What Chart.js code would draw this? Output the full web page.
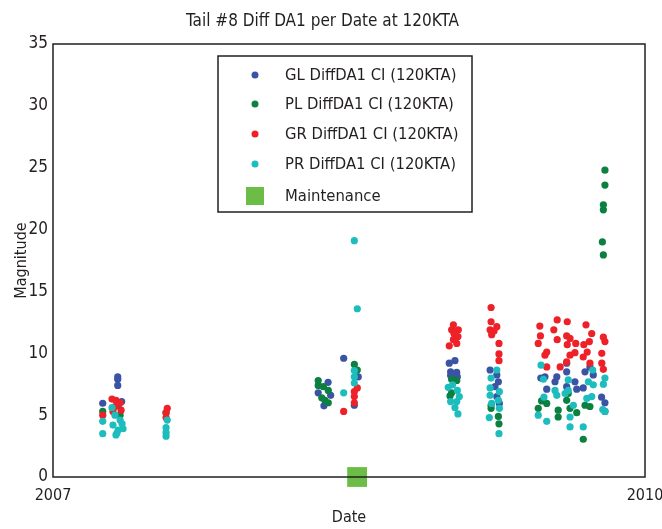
<!DOCTYPE html>
<html>
<head>
<meta charset="utf-8">
<script src="https://cdn.jsdelivr.net/npm/chart.js@4/dist/chart.umd.min.js"></script>
<style>
  html, body { margin: 0; padding: 0; background: #fff; }
  #wrap { width: 662px; height: 529px; }
</style>
</head>
<body>
<div id="wrap"><canvas id="tailChart"></canvas></div>
<script>
const FONT = "'Liberation Sans Narrow', 'DejaVu Sans Condensed', sans-serif";

// x = decimal year, y = magnitude
const glPoints = [
    [2007.328, 8.1], [2007.328, 7.9], [2007.328, 7.4], [2007.252, 5.96], [2007.348, 6.1],
    [2008.473, 9.6], [2008.547, 8.1], [2008.527, 5.8], [2008.344, 6.8], [2008.394, 7.65], [2008.407, 6.6], [2008.373, 5.75],
    [2009.008, 9.2], [2009.037, 9.4], [2009.015, 8.5], [2009.046, 8.45], [2009.015, 8.2], [2009.049, 8.1],
    [2009.215, 8.65], [2009.249, 8.25], [2009.257, 7.7], [2009.240, 7.3], [2009.249, 6.5], [2009.262, 5.95],
    [2009.472, 8.0], [2009.493, 8.1], [2009.603, 9.2], [2009.603, 8.5], [2009.696, 8.5], [2009.721, 8.9],
    [2009.553, 8.1], [2009.544, 7.7], [2009.645, 7.7], [2009.687, 7.2], [2009.502, 7.1], [2009.654, 7.1],
    [2009.780, 6.45], [2009.797, 6.0], [2009.603, 7.3], [2009.738, 8.25], [2009.797, 5.3]
];
const plPoints = [
    [2007.252, 5.3], [2007.330, 5.8], [2007.573, 5.2], [2007.340, 5.0],
    [2008.527, 9.1], [2008.542, 8.65], [2008.344, 7.8], [2008.344, 7.4], [2008.370, 7.3], [2008.395, 7.0],
    [2008.378, 6.2], [2008.395, 6.0], [2008.362, 6.4],
    [2009.020, 7.9], [2009.046, 7.8], [2009.020, 6.8], [2009.012, 6.55],
    [2009.220, 5.8], [2009.220, 5.55], [2009.257, 4.9], [2009.260, 4.3],
    [2009.797, 24.8], [2009.797, 23.6], [2009.789, 22.0], [2009.789, 21.6], [2009.784, 19.0], [2009.789, 17.95],
    [2009.476, 6.15], [2009.502, 5.95], [2009.459, 5.55], [2009.560, 5.4], [2009.560, 4.85], [2009.620, 5.55],
    [2009.654, 5.2], [2009.603, 6.2], [2009.696, 5.8], [2009.721, 5.7], [2009.687, 3.05], [2009.611, 6.75]
];
const grPoints = [
    [2007.252, 5.0], [2007.299, 6.3], [2007.319, 6.2], [2007.340, 6.0], [2007.314, 5.7], [2007.345, 5.4], [2007.304, 5.3],
    [2007.579, 5.55], [2007.573, 5.2], [2007.573, 4.8],
    [2008.542, 7.2], [2008.527, 6.9], [2008.527, 6.5], [2008.527, 6.0], [2008.473, 5.3],
    [2009.029, 12.3], [2009.020, 11.9], [2009.054, 11.9], [2009.032, 11.6], [2009.052, 11.35], [2009.046, 10.8],
    [2009.008, 10.6], [2009.029, 11.1],
    [2009.220, 13.7], [2009.220, 12.55], [2009.249, 12.15], [2009.215, 11.9], [2009.235, 11.8], [2009.223, 11.5],
    [2009.260, 10.8], [2009.260, 9.95], [2009.260, 9.4],
    [2009.467, 12.2], [2009.555, 12.7], [2009.606, 12.55], [2009.538, 11.9], [2009.701, 12.3], [2009.470, 11.4],
    [2009.603, 11.4], [2009.620, 11.2], [2009.730, 11.6], [2009.718, 10.95], [2009.789, 11.3], [2009.797, 10.95],
    [2009.459, 10.8], [2009.555, 11.1], [2009.606, 10.7], [2009.649, 10.8], [2009.690, 10.7], [2009.707, 10.1],
    [2009.645, 10.05], [2009.502, 10.1], [2009.493, 9.85], [2009.620, 9.85], [2009.687, 9.7], [2009.781, 10.0],
    [2009.570, 8.9], [2009.781, 9.2], [2009.789, 8.7], [2009.502, 8.9], [2009.603, 9.3], [2009.721, 9.2]
];
const prPoints = [
    [2007.252, 4.5], [2007.252, 3.5], [2007.299, 5.6], [2007.314, 5.0], [2007.340, 4.6], [2007.304, 4.2],
    [2007.330, 3.8], [2007.355, 3.9], [2007.319, 3.4], [2007.350, 4.3], [2007.324, 3.55],
    [2007.579, 4.6], [2007.573, 4.0], [2007.573, 3.6], [2007.573, 3.3],
    [2008.527, 19.1], [2008.542, 13.6], [2008.527, 8.6], [2008.527, 8.1], [2008.527, 7.6], [2008.473, 6.8],
    [2009.003, 7.25], [2009.025, 7.45], [2009.049, 7.0], [2009.059, 6.5], [2009.015, 6.1], [2009.046, 6.1],
    [2009.037, 5.6], [2009.052, 5.1],
    [2009.249, 8.65], [2009.220, 8.0], [2009.215, 7.2], [2009.262, 6.9], [2009.215, 6.6], [2009.257, 6.2],
    [2009.223, 5.95], [2009.262, 5.55], [2009.211, 4.8], [2009.260, 3.5],
    [2009.473, 9.05], [2009.485, 7.9], [2009.544, 7.0], [2009.611, 7.85], [2009.611, 7.0], [2009.713, 7.7],
    [2009.735, 8.65], [2009.738, 7.45], [2009.797, 8.0], [2009.789, 7.5], [2009.705, 6.35], [2009.730, 6.5],
    [2009.553, 6.6], [2009.637, 5.8], [2009.459, 5.0], [2009.502, 4.5], [2009.620, 4.85], [2009.620, 4.05],
    [2009.687, 4.05], [2009.786, 5.45], [2009.797, 5.3], [2009.488, 6.45], [2009.595, 6.75]
];
const maintenancePoints = [[2008.541, 0]];

const seriesLabels = ['GL DiffDA1 CI (120KTA)', 'PL DiffDA1 CI (120KTA)', 'GR DiffDA1 CI (120KTA)', 'PR DiffDA1 CI (120KTA)', 'Maintenance'];
const seriesColors = ['#3a53a4', '#0b8040', '#ee2128', '#1dbdbd', '#6cbd45'];
const xTicks = [2007, 2010];
const yTicks = [0, 5, 10, 15, 20, 25, 30, 35];

const toXY = (pts) => pts.map(p => ({ x: p[0], y: p[1] }));

const frame = {
    id: 'frame',
    afterDatasetsDraw(chart) {
        const { ctx, chartArea: a } = chart;
        ctx.save();
        ctx.strokeStyle = '#231f20';
        ctx.lineWidth = 1.5;
        ctx.strokeRect(a.left, a.top, a.right - a.left, a.bottom - a.top);
        ctx.restore();
    }
};

const boxLegend = {
    id: 'boxLegend',
    afterDraw(chart) {
        const { ctx } = chart;
        const left = 218, top = 56, w = 254, h = 156;
        ctx.save();
        ctx.fillStyle = '#fff';
        ctx.fillRect(left, top, w, h);
        ctx.strokeStyle = '#231f20';
        ctx.lineWidth = 1.5;
        ctx.strokeRect(left, top, w, h);
        ctx.font = '16.5px ' + FONT;
        ctx.textBaseline = 'middle';
        ctx.textAlign = 'left';
        const rows = [75, 104, 134, 164, 196];
        chart.data.datasets.forEach((ds, i) => {
            const y = rows[i];
            ctx.fillStyle = ds.backgroundColor;
            if (ds.pointStyle === 'rect') {
                ctx.fillRect(246, y - 9, 18, 18);
            } else {
                ctx.beginPath();
                ctx.arc(255, y, 3.5, 0, Math.PI * 2);
                ctx.fill();
            }
            ctx.fillStyle = '#231f20';
            ctx.fillText(ds.label, 285, y + 1);
        });
        ctx.restore();
    }
};

const dataLists = [glPoints, plPoints, grPoints, prPoints];

new Chart(document.getElementById('tailChart').getContext('2d'), {
    type: 'scatter',
    data: {
        datasets: dataLists.map((pts, i) => ({
            label: seriesLabels[i],
            data: toXY(pts),
            backgroundColor: seriesColors[i],
            borderWidth: 0,
            pointRadius: 3.6,
            order: 4 - i
        })).concat([{
            label: seriesLabels[4],
            data: toXY(maintenancePoints),
            backgroundColor: seriesColors[4],
            borderWidth: 0,
            pointStyle: 'rect',
            pointRadius: 14,
            clip: false,
            order: 0
        }])
    },
    plugins: [frame, boxLegend],
    options: {
        responsive: true,
        maintainAspectRatio: false,
        animation: false,
        layout: { padding: { left: 0, right: 17, top: 0, bottom: 0 } },
        plugins: {
            legend: { display: false },
            tooltip: { enabled: false },
            title: {
                display: true,
                text: 'Tail #8 Diff DA1 per Date at 120KTA',
                color: '#231f20',
                font: { family: FONT, size: 17, weight: 'normal' },
                padding: { top: 11, bottom: 12.6 }
            }
        },
        scales: {
            x: {
                type: 'linear',
                min: 2007,
                max: 2010,
                afterBuildTicks: (scale) => { scale.ticks = xTicks.map(v => ({ value: v })); },
                afterFit: (scale) => {
                    scale.height = 52;
                    scale.paddingLeft = 0;
                    scale.paddingRight = 0;
                },
                grid: { display: false, drawTicks: false },
                border: { display: false },
                ticks: {
                    color: '#231f20',
                    padding: 9,
                    maxRotation: 0,
                    font: { family: FONT, size: 16 },
                    callback: (v) => String(v)
                },
                title: {
                    display: true,
                    text: 'Date',
                    color: '#231f20',
                    font: { family: FONT, size: 16 },
                    padding: { top: 0, bottom: 2 }
                }
            },
            y: {
                min: 0,
                max: 35,
                afterBuildTicks: (scale) => { scale.ticks = yTicks.map(v => ({ value: v })); },
                afterFit: (scale) => {
                    scale.width = 53;
                    scale.paddingTop = 0;
                    scale.paddingBottom = 0;
                },
                grid: { display: false, drawTicks: false },
                border: { display: false },
                ticks: {
                    color: '#231f20',
                    padding: 5,
                    font: { family: FONT, size: 17 }
                },
                title: {
                    display: true,
                    text: 'Magnitude',
                    color: '#231f20',
                    font: { family: FONT, size: 16 },
                    padding: { top: 12, bottom: 0 }
                }
            }
        }
    }
});
</script>
</body>
</html>
